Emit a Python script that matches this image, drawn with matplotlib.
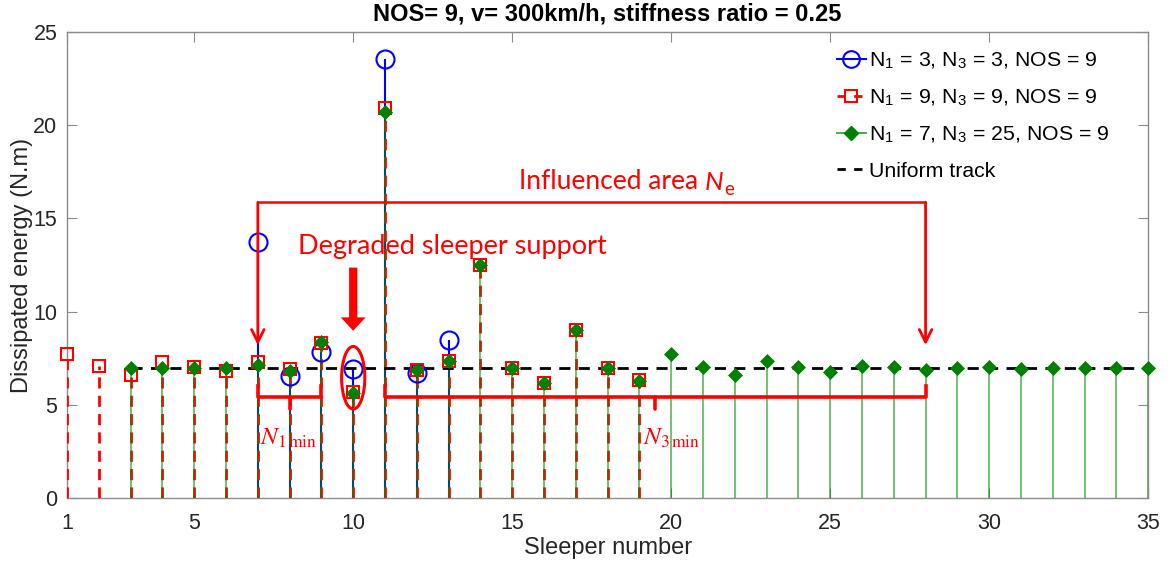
import numpy as np
import matplotlib
matplotlib.use("Agg")
import matplotlib.pyplot as plt
from matplotlib.patches import Ellipse
from matplotlib.lines import Line2D
from matplotlib.legend_handler import HandlerLine2D

# ---- data -------------------------------------------------------------
x_a = np.arange(7, 14)
e_a = [13.75, 6.55, 7.85, 6.92, 23.55, 6.7, 8.5]          # N1=3, N3=3

x_b = np.arange(1, 20)
e_b = [7.74, 7.06, 6.58, 7.28, 7.02, 6.82, 7.28, 6.92, 8.3, 5.69,
       20.92, 6.88, 7.37, 12.52, 7.0, 6.17, 9.0, 6.97, 6.33]  # N1=9, N3=9

x_c = np.arange(3, 36)
e_c = [7.0, 6.95, 6.98, 7.0, 7.15, 6.8, 8.36, 5.64, 20.7, 6.85,
       7.37, 12.52, 7.0, 6.17, 9.0, 6.97, 6.3, 7.74, 7.03, 6.58,
       7.33, 7.03, 6.74, 7.06, 7.03, 6.88, 7.0, 7.03, 6.92, 6.97,
       6.97, 6.97, 6.98]                                     # N1=7, N3=25

x_u = np.arange(3, 36)
e_u = np.full(x_u.size, 6.97)                                # uniform track

labels = [r"N$_\mathregular{1}$ = 3, N$_\mathregular{3}$ = 3, NOS = 9",
          r"N$_\mathregular{1}$ = 9, N$_\mathregular{3}$ = 9, NOS = 9",
          r"N$_\mathregular{1}$ = 7, N$_\mathregular{3}$ = 25, NOS = 9",
          "Uniform track"]
title = "NOS= 9, v= 300km/h, stiffness ratio = 0.25"
xticks = [1, 5, 10, 15, 20, 25, 30, 35]
yticks = [0, 5, 10, 15, 20, 25]

# ---- style -------------------------------------------------------------
plt.rcParams["font.family"] = ["Liberation Sans", "DejaVu Sans"]
plt.rcParams["mathtext.fontset"] = "stix"
RED = "#ff0000"
BLUE = "#0000ff"
GREEN = (0.0, 0.5, 0.0)
TXT = "#262626"
AX = "#8c8c8c"

fig = plt.figure(figsize=(11.68, 5.69), dpi=100)
ax = fig.add_axes([0.0574, 0.1248, 0.9256, 0.819])

# stems
ax.vlines(x_a, 0, e_a, colors=BLUE, lw=1.5, zorder=2)
ax.vlines(x_b, 0, e_b, colors=RED, lw=2.0, linestyles=(0, (4, 2.6)), zorder=3)
ax.vlines(x_c, 0, e_c, colors=(0.0, 0.55, 0.0), lw=1.4, alpha=0.55, zorder=4)

ax.plot(x_u, e_u, ls=(0, (4, 3)), color="k", lw=2.0, zorder=5)

ax.plot(x_a, e_a, ls="none", marker="o", ms=13, mfc="none", mec=BLUE, mew=1.5,
        zorder=6, clip_on=False)
ax.plot(x_b, e_b, ls="none", marker="s", ms=8.2, mfc="none", mec=RED, mew=1.5,
        zorder=7, clip_on=False)
ax.plot(x_c, e_c, ls="none", marker="D", ms=7.5, mfc=GREEN, mec=GREEN, mew=0.5,
        zorder=8, clip_on=False)

# axes
ax.set_xlim(1, 35)
ax.set_ylim(0, 25)
ax.set_xticks(xticks)
ax.set_yticks(yticks)
ax.tick_params(direction="in", length=7, width=0.8, color=AX, labelsize=15.5,
               labelcolor=TXT, top=True, right=True)
ax.tick_params(axis="x", pad=11)
ax.tick_params(axis="y", pad=7)
for s in ax.spines.values():
    s.set_color(AX)
    s.set_linewidth(1.0)
ax.set_xlabel("Sleeper number", fontsize=17, color=TXT, labelpad=2)
ax.set_ylabel("Dissipated energy (N.m)", fontsize=17, color=TXT, labelpad=0.5)
ax.set_title(title, fontsize=17, fontweight="bold", pad=8)


# legend with the marker at the end of the short line, as a stem key
class StemKey(HandlerLine2D):
    def get_xdata(self, legend, xdescent, ydescent, width, height, fontsize):
        xd = np.array([-xdescent, -xdescent + width])
        return xd, np.array([-xdescent + width * 0.72])


h_a = Line2D([], [], color=BLUE, lw=1.5, marker="o", ms=12, mfc="none", mec=BLUE, mew=1.5)
h_b = Line2D([], [], color=RED, lw=2.0, ls=(0, (3, 3)), marker="s", ms=8, mfc="none",
             mec=RED, mew=1.5)
h_c = Line2D([], [], color=(0.3, 0.65, 0.3), lw=1.4, marker="D", ms=7.5, mfc=GREEN, mec=GREEN)
h_u = Line2D([], [], color="k", lw=2.0, ls=(0, (3, 3)))
ax.legend([h_a, h_b, h_c, h_u], labels, loc="upper left",
          bbox_to_anchor=(0.7025, 0.982), frameon=False, fontsize=15.3,
          handlelength=1.35, handletextpad=0.15, labelspacing=0.78, borderpad=0,
          handler_map={h_a: StemKey(numpoints=1), h_b: StemKey(numpoints=1),
                       h_c: StemKey(numpoints=1)})

# ---- annotations --------------------------------------------------------
ANN = "Lato"
ax.plot([7, 28], [15.86, 15.86], color=RED, lw=1.8, solid_capstyle="butt", zorder=9)
for xa in (7, 28):
    ax.annotate("", xy=(xa, 8.2), xytext=(xa, 15.86),
                arrowprops=dict(arrowstyle="->,head_length=0.9,head_width=0.45",
                                color=RED, lw=2.0, shrinkA=0, shrinkB=0), zorder=9)

t1 = ax.text(15.21, 16.6, "Influenced area ", fontsize=19, color=RED, family=ANN,
             va="baseline", ha="left")
t2 = ax.annotate("N", xy=(1, 0), xycoords=t1, fontsize=19, color=RED, family=ANN,
                 style="italic", va="bottom", ha="left")
ax.annotate("e", xy=(1, 0), xycoords=t2, xytext=(0.5, -3), textcoords="offset points",
            fontsize=13.5, color=RED, family=ANN, va="bottom", ha="left")

ax.text(8.26, 13.1, "Degraded sleeper support", fontsize=19.5, color=RED, family=ANN,
        va="baseline", ha="left")
ax.arrow(10, 12.36, 0, -3.39, width=0.26, head_width=0.78, head_length=0.72,
         length_includes_head=True, color=RED, lw=0, zorder=9)
ax.add_patch(Ellipse((10, 6.45), 0.73, 3.36, fill=False, ec=RED, lw=2.2, zorder=9))

# braces under the affected ranges
for x0, x1, xm in ((7, 9, 8), (11, 28, 19.5)):
    ax.plot([x0, x0, x1, x1], [6.0, 5.43, 5.43, 6.0], color=RED, lw=2.6,
            solid_joinstyle="round", zorder=9)
    ax.plot([xm, xm], [5.43, 4.8], color=RED, lw=2.6, solid_capstyle="round", zorder=9)

ax.text(7.07, 2.86, r"$N_{1\,\mathrm{min}}$", fontsize=18, color=RED, va="baseline")
ax.text(19.11, 2.86, r"$N_{3\,\mathrm{min}}$", fontsize=18, color=RED, va="baseline")

fig.savefig("out.png", dpi=100)
